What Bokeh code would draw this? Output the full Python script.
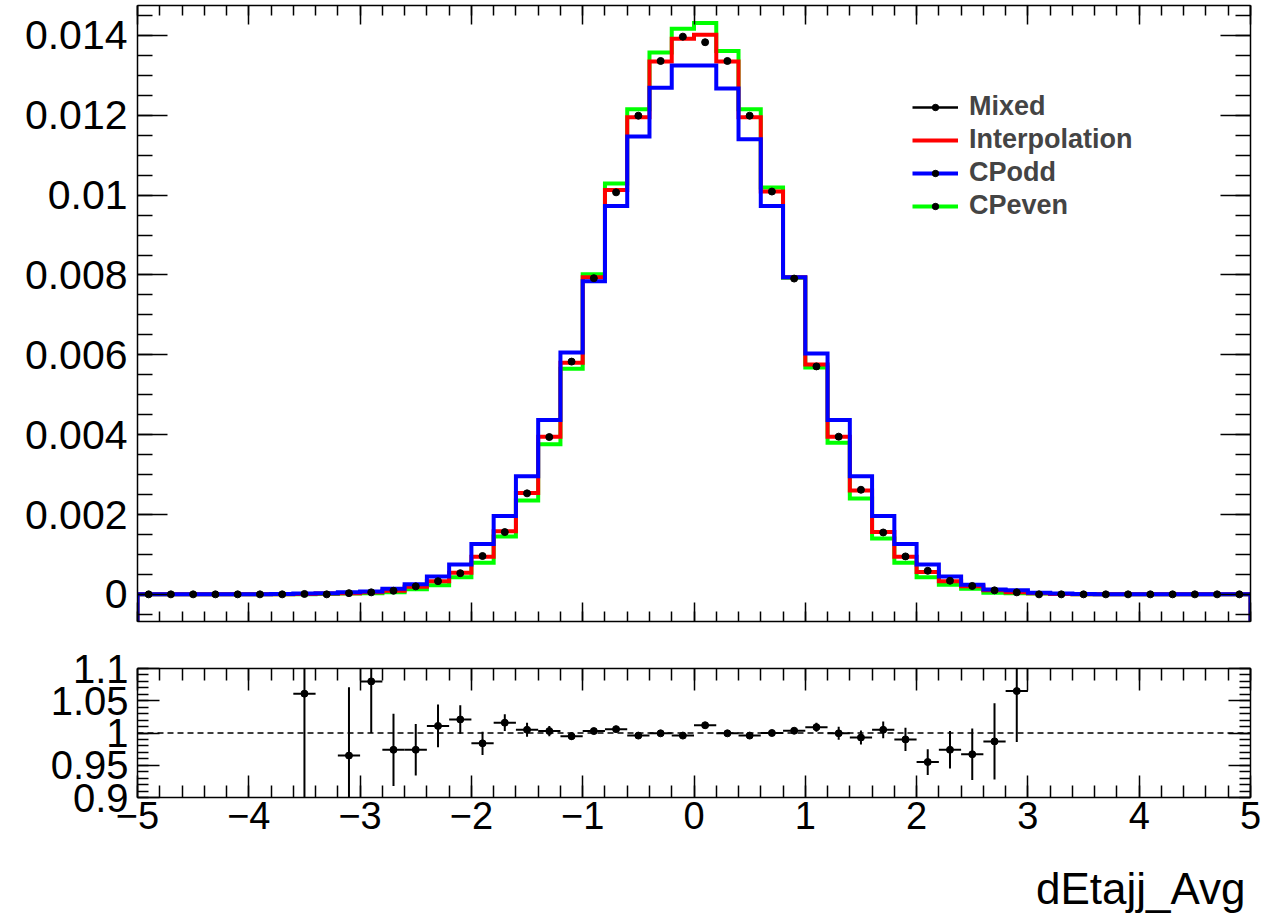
import numpy as np
from bokeh.plotting import figure
from bokeh.layouts import column
from bokeh.models import (Range1d, LinearAxis, FixedTicker, CustomJSTickFormatter,
                          Span, Legend, LegendItem, Title)
from bokeh.embed import file_html
from bokeh.resources import INLINE

# ---------------- data ----------------
x_lo, x_hi, n_bins = -5.0, 5.0, 50

mixed = [0, 0, 0, 0, 0, 0, 0, 0.00001, 0.0, 0.00003,
         0.00005, 0.00009, 0.0002, 0.00033, 0.00053, 0.00096, 0.00156, 0.00253, 0.00394, 0.00583,
         0.00792, 0.01007, 0.01199, 0.01336, 0.01397, 0.01383, 0.01336, 0.01199, 0.01009, 0.00791,
         0.00571, 0.00395, 0.00262, 0.00155, 0.00095, 0.00059, 0.00034, 0.00021, 0.0001, 0.00005,
         0, 0, 0, 0, 0, 0, 0, 0, 0, 0]

interpolation = [0, 0, 0, 0, 0, 0, 0, 0.00001, 0.00002, 0.00003,
                 0.00005, 0.00009, 0.00019, 0.00033, 0.00054, 0.00094, 0.00158, 0.00254, 0.00395, 0.0058,
                 0.00794, 0.01013, 0.01195, 0.01335, 0.01392, 0.01402, 0.01335, 0.01195, 0.01009, 0.00794,
                 0.00576, 0.00395, 0.0026, 0.00156, 0.00094, 0.00056, 0.00033, 0.0002, 0.0001, 0.00005,
                 0.00003, 0.00001, 0, 0, 0, 0, 0, 0, 0, 0]

cp_odd = [0, 0, 0, 0, 0, 0, 0.00001, 0.00002, 0.00003, 0.00005,
          0.00007, 0.00014, 0.00025, 0.00045, 0.00075, 0.00126, 0.00196, 0.00296, 0.00437, 0.00606,
          0.00784, 0.00973, 0.01147, 0.01269, 0.01325, 0.01325, 0.01267, 0.0114, 0.00973, 0.00794,
          0.00603, 0.00437, 0.00296, 0.00196, 0.00126, 0.00075, 0.00045, 0.00024, 0.00012, 0.0001,
          0.00004, 0.00002, 0.00001, 0, 0, 0, 0, 0, 0, 0]

cp_even = [0, 0, 0, 0, 0, 0, 0, 0, 0.00001, 0.00002,
           0.00003, 0.00005, 0.00013, 0.00023, 0.00043, 0.00079, 0.00145, 0.00235, 0.00376, 0.00565,
           0.00802, 0.01029, 0.01215, 0.01357, 0.01417, 0.01431, 0.01361, 0.01215, 0.01019, 0.00793,
           0.00568, 0.0038, 0.0024, 0.0014, 0.00079, 0.00043, 0.00024, 0.00014, 0.00004, 0.00003,
           0.00002, 0.00001, 0, 0, 0, 0, 0, 0, 0, 0]

ratio_x = [-3.5, -3.1, -2.9, -2.7, -2.5, -2.3, -2.1, -1.9, -1.7, -1.5, -1.3, -1.1, -0.9, -0.7, -0.5, -0.3,
           -0.1, 0.1, 0.3, 0.5, 0.7, 0.9, 1.1, 1.3, 1.5, 1.7, 1.9, 2.1, 2.3, 2.5, 2.7, 2.9]
ratio = [1.061, 0.965, 1.080, 0.974, 0.974, 1.011, 1.021, 0.984, 1.016, 1.005, 1.003, 0.995, 1.003, 1.006,
         0.996, 0.9995, 0.996, 1.012, 0.9995, 0.996, 1.0, 1.0035, 1.009, 0.9995, 0.993, 1.005, 0.990,
         0.955, 0.974, 0.967, 0.987, 1.065]
ratio_err = [0.45, 0.106, 0.08, 0.056, 0.04, 0.033, 0.022, 0.018, 0.013, 0.011, 0.008, 0.006, 0.004, 0.004,
             0.003, 0.003, 0.003, 0.003, 0.003, 0.003, 0.003, 0.004, 0.007, 0.01, 0.011, 0.013, 0.018,
             0.02, 0.029, 0.04, 0.059, 0.079]

x_ticks = [-5, -4, -3, -2, -1, 0, 1, 2, 3, 4, 5]
top_y_ticks = [0, 0.002, 0.004, 0.006, 0.008, 0.01, 0.012, 0.014]
ratio_y_ticks = [0.9, 0.95, 1.0, 1.05, 1.1]
ratio_ref = 1.0
x_title = "dEtajj_Avg"
labels = ["Mixed", "Interpolation", "CPodd", "CPeven"]

# ---------------- derived ----------------
bin_edges = np.linspace(x_lo, x_hi, n_bins + 1)
bin_centers = 0.5 * (bin_edges[:-1] + bin_edges[1:])
half_w = 0.5 * (bin_edges[1] - bin_edges[0])
top_ymin, top_ymax = -0.00068, 0.01475
r_ymin, r_ymax = 0.9, 1.1

FONT = "Liberation Sans"
W = 1273

fmt = CustomJSTickFormatter(code="""
const v = Math.round(tick*1e6)/1e6;
return String(v).replace('-', '\u2212');
""")
blank_fmt = CustomJSTickFormatter(code="return '';")


def make_axis(ticks, minor, major_in, minor_in, labels_on, font_size="1px", standoff=0):
    ax = LinearAxis(ticker=FixedTicker(ticks=list(ticks), minor_ticks=list(minor)),
                    formatter=fmt if labels_on else blank_fmt)
    ax.major_tick_in = major_in
    ax.major_tick_out = 0
    ax.minor_tick_in = minor_in
    ax.minor_tick_out = 0
    for a in ("axis_line", "major_tick_line", "minor_tick_line"):
        setattr(ax, a + "_color", "black")
        setattr(ax, a + "_width", 1.5)
    ax.major_label_text_font = FONT
    ax.major_label_text_color = "black"
    ax.major_label_text_font_size = font_size if labels_on else "1px"
    ax.major_label_standoff = standoff if labels_on else 0
    return ax


x_minor = np.round(np.arange(x_lo, x_hi + 1e-9, 0.2), 6)
top_minor = np.round(np.arange(-0.0005, 0.01476, 0.0005), 6)
r_minor = np.round(np.arange(0.9, 1.1001, 0.01), 6)


def hist_xy(vals, ymin):
    xs = np.concatenate([[bin_edges[0]], bin_edges, [bin_edges[-1]]])
    ys = np.concatenate([[ymin], vals, [vals[-1]], [ymin]])
    return xs, ys


# ---------------- top panel ----------------
xr = Range1d(x_lo, x_hi)
top = figure(width=W, height=640, x_range=xr, y_range=Range1d(top_ymin, top_ymax),
             output_backend="svg", toolbar_location=None,
             x_axis_location=None, y_axis_location=None,
             min_border_left=137, min_border_right=23, min_border_top=5, min_border_bottom=19)
top.grid.visible = False
top.outline_line_color = None
top.background_fill_color = "white"
top.border_fill_color = "white"

top.add_layout(make_axis(top_y_ticks, top_minor, 30, 15, True, "41px", 10), "left")
top.add_layout(make_axis(top_y_ticks, top_minor, 30, 15, False), "right")
top.add_layout(make_axis(x_ticks, x_minor, 19, 10, False), "below")
top.add_layout(make_axis(x_ticks, x_minor, 19, 10, False), "above")

gx, gy = hist_xy(np.array(cp_even), top_ymin)
r_even = top.step(gx, gy, mode="after", line_color="#00ff00", line_width=4, line_join="miter")
rx, ry = hist_xy(np.array(interpolation), top_ymin)
r_interp = top.step(rx, ry, mode="after", line_color="#ff0000", line_width=4, line_join="miter")
bx, by = hist_xy(np.array(cp_odd), top_ymin)
r_odd = top.step(bx, by, mode="after", line_color="#0000ff", line_width=4, line_join="miter")

mixed_arr = np.array(mixed)
rel_err = np.zeros(n_bins)
for xv, rv, ev in zip(ratio_x, ratio, ratio_err):
    rel_err[int(round((xv - x_lo) / (2 * half_w) - 0.5))] = ev / rv
r_mix_err = top.segment(bin_centers, mixed_arr * (1 - rel_err), bin_centers, mixed_arr * (1 + rel_err),
                        line_color="black", line_width=2.5)
r_mix = top.scatter(bin_centers, mixed_arr, size=7, marker="circle", color="black")

legend = Legend(items=[
    LegendItem(label=labels[0], renderers=[r_mix_err, r_mix]),
    LegendItem(label=labels[1], renderers=[r_interp]),
    LegendItem(label=labels[2], renderers=[r_odd, r_mix]),
    LegendItem(label=labels[3], renderers=[r_even, r_mix]),
], location=(775, 400), padding=0, spacing=2, glyph_width=46, glyph_height=16, label_height=20,
    label_standoff=11, label_text_font=FONT, label_text_font_size="27px", label_text_font_style="bold",
    border_line_color=None, background_fill_alpha=0, margin=0)
top.add_layout(legend)

# ---------------- ratio panel ----------------
bot = figure(width=W, height=281, x_range=xr, y_range=Range1d(r_ymin, r_ymax),
             output_backend="svg", toolbar_location=None,
             x_axis_location=None, y_axis_location=None,
             min_border_left=137, min_border_right=23, min_border_top=28, min_border_bottom=124)
bot.grid.visible = False
bot.outline_line_color = None

bot.add_layout(make_axis(ratio_y_ticks, r_minor, 22, 11, True, "40px", 9), "left")
bot.add_layout(make_axis(ratio_y_ticks, r_minor, 22, 11, False), "right")
bot.add_layout(make_axis(x_ticks, x_minor, 22, 12, True, "38px", 4), "below")
bot.add_layout(make_axis(x_ticks, x_minor, 22, 12, False), "above")

# blank spacer panel (invisible outward ticks) between tick labels and the axis title
spacer = LinearAxis(ticker=FixedTicker(ticks=[x_lo], minor_ticks=[]), formatter=blank_fmt,
                    axis_line_alpha=0, major_tick_line_alpha=0, minor_tick_line_alpha=0,
                    major_tick_in=0, major_tick_out=30, minor_tick_in=0, minor_tick_out=0,
                    major_label_standoff=0, major_label_text_font_size="1px")
bot.add_layout(spacer, "below")
bot.add_layout(Title(text=x_title, align="right", offset=5, standoff=0, text_font=FONT,
                     text_font_size="44px", text_font_style="normal", text_color="black"), "below")

bot.add_layout(Span(location=ratio_ref, dimension="width", line_color="black", line_dash="6 4",
                    line_width=1.5))
rx_arr = np.array(ratio_x)
r_arr = np.array(ratio)
e_arr = np.array(ratio_err)
bot.segment(rx_arr, r_arr - e_arr, rx_arr, r_arr + e_arr, line_color="black", line_width=2)
bot.segment(rx_arr - half_w, r_arr, rx_arr + half_w, r_arr, line_color="black", line_width=2)
bot.scatter(rx_arr, r_arr, size=7, marker="circle", color="black")

layout = column(top, bot, spacing=0)
open("out.html", "w").write(file_html(layout, INLINE))
